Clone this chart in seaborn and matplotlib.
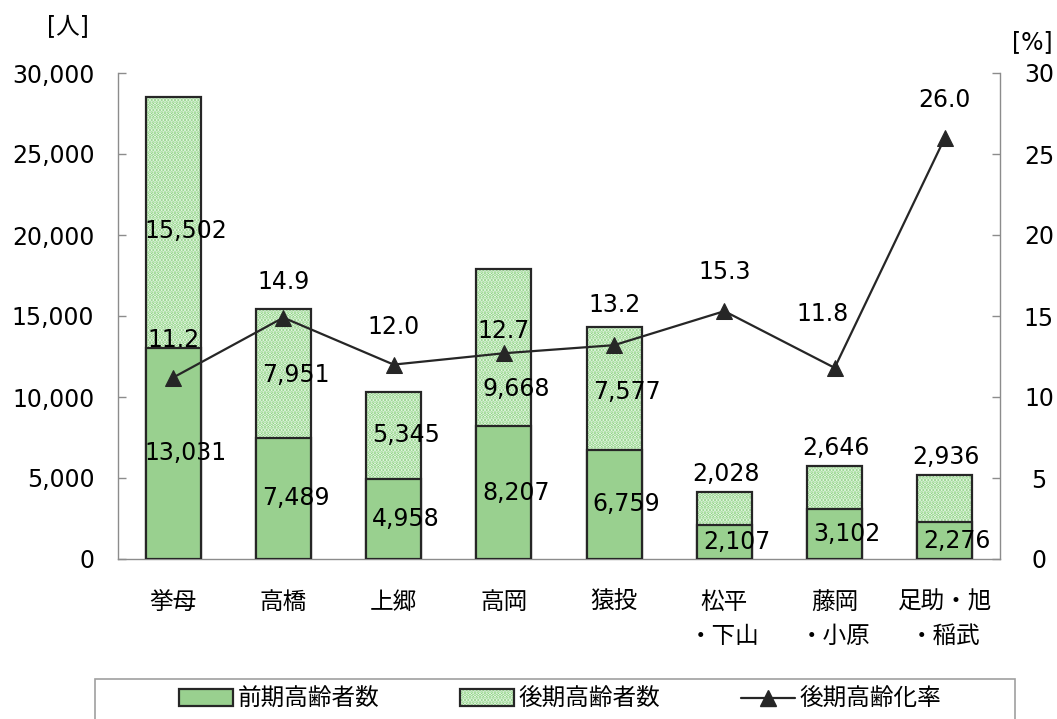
import numpy as np
import pandas as pd
import matplotlib
matplotlib.use("Agg")
import matplotlib.pyplot as plt
from matplotlib.patches import Patch, Rectangle
from matplotlib.lines import Line2D
import matplotlib.ticker as mticker
import seaborn as sns

# ---- data ----
categories = ["挙母", "高橋", "上郷", "高岡", "猿投", "松平\n・下山", "藤岡\n・小原", "足助・旭\n・稲武"]
early_elderly = [13031, 7489, 4958, 8207, 6759, 2107, 3102, 2276]   # 前期高齢者数
late_elderly = [15502, 7951, 5345, 9668, 7577, 2028, 2646, 2936]    # 後期高齢者数
late_rate = [11.2, 14.9, 12.0, 12.7, 13.2, 15.3, 11.8, 26.0]        # 後期高齢化率
left_ticks = [0, 5000, 10000, 15000, 20000, 25000, 30000]
right_ticks = [0, 5, 10, 15, 20, 25, 30]

# ---- styles / label offsets (points) ----
rate_label_dy = [27, 26, 27, 16, 29, 28, 39, 27]
rate_label_dx = [0, 0, 0, 0, 0, 0, -9, 0]
upper_label_dy = [-6, -1, 0, -30, -3, 0, 0, 0]

sns.set_theme(style="white")
plt.rcParams["font.family"] = ["DejaVu Sans", "Noto Sans CJK JP"]
plt.rcParams["hatch.linewidth"] = 1.9
for k in ["text.color", "axes.labelcolor", "xtick.labelcolor", "ytick.labelcolor"]:
    plt.rcParams[k] = "black"

GREEN = "#99d08f"
DOT = "#86d07b"
EDGE = "#262626"
AXC = "#8c8c8c"
FS = 17
HATCH = "....."

df = pd.DataFrame({"cat": categories, "early": early_elderly, "late": late_elderly})
df["total"] = df["early"] + df["late"]

fig = plt.figure(figsize=(10.57, 7.19), dpi=100)
ax = fig.add_axes([118 / 1057, 1 - 559 / 719, 882 / 1057, 486 / 719])

# hatched upper (drawn as full-height)
sns.barplot(data=df, x="cat", y="total", color="white", edgecolor=DOT, linewidth=0,
            hatch=HATCH, width=0.5, ax=ax, zorder=2)
# outline of full bars
sns.barplot(data=df, x="cat", y="total", fill=False, edgecolor=EDGE, linewidth=1.6,
            width=0.5, ax=ax, zorder=3)
# lower segment
sns.barplot(data=df, x="cat", y="early", color=GREEN, edgecolor=EDGE, linewidth=1.6,
            width=0.5, ax=ax, zorder=4, saturation=1)
n = len(df)
for p in ax.patches[2 * n:]:
    p.set_facecolor(GREEN)
for p in ax.patches[n:2 * n]:
    p.set_facecolor("none")
    p.set_edgecolor(EDGE)
for p in ax.patches[:n]:
    p.set_facecolor("white")
    p.set_edgecolor(DOT)
    p.set_linewidth(0)

ax.set_xlim(-0.5, len(categories) - 0.5)
ax.set_ylim(0, 30000)
ax.set_yticks(left_ticks)
ax.yaxis.set_major_formatter(mticker.FuncFormatter(lambda v, p: f"{int(v):,}"))
ax.set_xlabel("")
ax.set_ylabel("")
ax.tick_params(axis="y", direction="in", length=6, width=1.0, color=AXC, pad=17, labelsize=FS,
               left=True, labelcolor="black")
ax.tick_params(axis="x", length=0, pad=22, labelsize=FS, labelcolor="black")
for lab in ax.get_xticklabels():
    lab.set_linespacing(1.55)
    lab.set_verticalalignment("top")
for s in ["top", "right"]:
    ax.spines[s].set_visible(False)
for s in ["left", "bottom"]:
    ax.spines[s].set_color(AXC)
    ax.spines[s].set_linewidth(1.0)

# bar value labels
for i, (e, l) in enumerate(zip(early_elderly, late_elderly)):
    ax.annotate(f"{e:,}", (i, e / 2), xytext=(9, 0), textcoords="offset points",
                ha="center", va="center", fontsize=FS, color="black", zorder=6)
    if l >= 4000:
        ax.annotate(f"{l:,}", (i, e + l / 2), xytext=(9, upper_label_dy[i]), textcoords="offset points",
                    ha="center", va="center", fontsize=FS, color="black", zorder=6)
    else:
        ax.annotate(f"{l:,}", (i, e + l), xytext=(1, 4), textcoords="offset points",
                    ha="center", va="bottom", fontsize=FS, color="black", zorder=6)

# rate line
ax2 = ax.twinx()
sns.lineplot(x=np.arange(len(categories)), y=late_rate, ax=ax2, color=EDGE, linewidth=1.6,
             marker="^", markersize=12, markeredgecolor=EDGE, zorder=5)
ax2.set_ylim(0, 30)
ax2.set_yticks(right_ticks)
ax2.set_xlim(-0.5, len(categories) - 0.5)
ax2.tick_params(axis="y", direction="in", length=6, width=1.0, color=AXC, pad=28, labelsize=FS,
                right=True, labelcolor="black")
for lab in ax2.get_yticklabels():
    lab.set_horizontalalignment("center")
for s in ["top", "left", "bottom"]:
    ax2.spines[s].set_visible(False)
ax2.spines["right"].set_color(AXC)
ax2.spines["right"].set_linewidth(1.0)
for i, r in enumerate(late_rate):
    ax2.annotate(f"{r:.1f}", (i, r), xytext=(rate_label_dx[i], rate_label_dy[i]), textcoords="offset points",
                 ha="center", va="center", fontsize=FS, color="black", zorder=7)

# unit labels
fig.text(68 / 1057, 1 - 27 / 719, "[人]", ha="center", va="center", fontsize=FS, color="black")
fig.text(1032 / 1057, 1 - 42 / 719, "[%]", ha="center", va="center", fontsize=FS, color="black")

# legend
h1 = Patch(facecolor=GREEN, edgecolor=EDGE, linewidth=1.6)
h2a = Patch(facecolor="white", edgecolor=DOT, linewidth=0, hatch=HATCH)
h2b = Patch(facecolor="none", edgecolor=EDGE, linewidth=1.6)
h3 = Line2D([], [], color=EDGE, linewidth=1.6, marker="^", markersize=12)
fig.legend([h1, (h2a, h2b), h3], ["前期高齢者数", "後期高齢者数", "後期高齢化率"],
           loc="center", bbox_to_anchor=(560 / 1057, 1 - 699 / 719), ncol=3, frameon=False,
           fontsize=FS, handlelength=2.3, handletextpad=0.2, columnspacing=3.4, handleheight=0.7)
fig.add_artist(Rectangle((95 / 1057, -0.05), 920 / 1057, 0.05 + (719 - 679) / 719,
                         transform=fig.transFigure, fill=False, edgecolor="#a0a0a0", linewidth=1.2))

fig.savefig("out.png", dpi=100)
